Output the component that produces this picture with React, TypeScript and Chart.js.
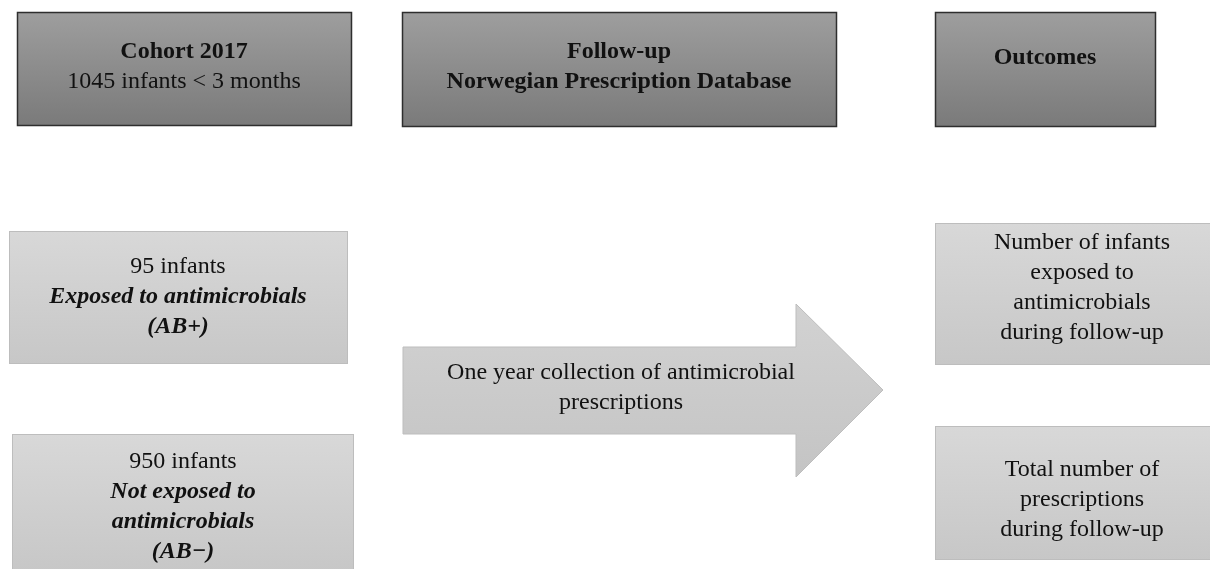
import React, { useEffect, useRef } from "react";
import { Chart, registerables } from "chart.js";

Chart.register(...registerables);

// Box extents in chart units (x: 0..1210, y: 0..569 from top)
const boxNames = ["cohort", "followup", "outcomes", "abplus", "abminus", "outA", "outB"];
const boxX1 = [17, 402, 935, 9, 12, 935, 935];
const boxX2 = [352, 837, 1156, 348, 354, 1212, 1212];
const boxY1 = [12, 12, 12, 231, 434, 223, 426];
const boxY2 = [126, 127, 127, 364, 572, 365, 560];
const boxKind = ["dark", "dark", "dark", "light", "light", "light", "light"];

// Text lines: [text, bold, italic]
const boxLines: [string, boolean, boolean][][] = [
  [["Cohort 2017", true, false], ["1045 infants < 3 months", false, false]],
  [["Follow-up", true, false], ["Norwegian Prescription Database", true, false]],
  [["Outcomes", true, false]],
  [["95 infants", false, false], ["Exposed to antimicrobials", true, true], ["(AB+)", true, true]],
  [["950 infants", false, false], ["Not exposed to", true, true], ["antimicrobials", true, true], ["(AB\u2212)", true, true]],
  [["Number of infants", false, false], ["exposed to", false, false], ["antimicrobials", false, false], ["during follow-up", false, false]],
  [["Total number of", false, false], ["prescriptions", false, false], ["during follow-up", false, false]],
];
const textCenterX = [184, 619, 1045, 178, 183, 1082, 1082];
const textFirstY = [52, 52, 58, 267, 462, 243, 470];

// Arrow geometry
const arrowShaftX = [403, 796];
const arrowShaftY = [347, 434];
const arrowHeadY = [304, 477];
const arrowTip = [883, 390];
const arrowLines = ["One year collection of antimicrobial", "prescriptions"];
const arrowTextX = 621;
const arrowTextY = 373;

const LINE_H = 30;
const FONT_SIZE = 24;
const FONT = '"Liberation Serif", "Times New Roman", serif';

const flowPlugin = {
  id: "flow",
  afterDatasetsDraw(chart: any) {
    const ctx: CanvasRenderingContext2D = chart.ctx;
    const xs = chart.scales.x;
    const ys = chart.scales.y;
    const px = (v: number) => xs.getPixelForValue(v);
    const py = (v: number) => ys.getPixelForValue(v);
    ctx.save();

    const drawText = (lines: [string, boolean, boolean][], cx: number, y0: number) => {
      ctx.fillStyle = "#111";
      ctx.textAlign = "center";
      ctx.textBaseline = "middle";
      lines.forEach((l, i) => {
        ctx.font = `${l[2] ? "italic " : ""}${l[1] ? "bold " : ""}${FONT_SIZE}px ${FONT}`;
        ctx.fillText(l[0], px(cx), py(y0 + i * LINE_H));
      });
    };

    boxNames.forEach((_, i) => {
      const x1 = px(boxX1[i]);
      const x2 = px(boxX2[i]);
      const y1 = py(boxY1[i]);
      const y2 = py(boxY2[i]);
      const g = ctx.createLinearGradient(0, y1, 0, y2);
      if (boxKind[i] === "dark") {
        g.addColorStop(0, "#9e9e9e");
        g.addColorStop(1, "#7a7a7a");
      } else {
        g.addColorStop(0, "#d8d8d8");
        g.addColorStop(1, "#c7c7c7");
      }
      ctx.fillStyle = g;
      ctx.fillRect(x1, y1, x2 - x1, y2 - y1);
      if (boxKind[i] === "dark") {
        ctx.strokeStyle = "#2e2e2e";
        ctx.lineWidth = 1.5;
      } else {
        ctx.strokeStyle = "#bdbdbd";
        ctx.lineWidth = 1;
      }
      ctx.strokeRect(x1 + 0.5, y1 + 0.5, x2 - x1 - 1, y2 - y1 - 1);
      drawText(boxLines[i], textCenterX[i], textFirstY[i]);
    });

    // arrow
    const ag = ctx.createLinearGradient(0, py(arrowHeadY[0]), 0, py(arrowHeadY[1]));
    ag.addColorStop(0, "#d2d2d2");
    ag.addColorStop(1, "#c4c4c4");
    ctx.beginPath();
    ctx.moveTo(px(arrowShaftX[0]), py(arrowShaftY[0]));
    ctx.lineTo(px(arrowShaftX[1]), py(arrowShaftY[0]));
    ctx.lineTo(px(arrowShaftX[1]), py(arrowHeadY[0]));
    ctx.lineTo(px(arrowTip[0]), py(arrowTip[1]));
    ctx.lineTo(px(arrowShaftX[1]), py(arrowHeadY[1]));
    ctx.lineTo(px(arrowShaftX[1]), py(arrowShaftY[1]));
    ctx.lineTo(px(arrowShaftX[0]), py(arrowShaftY[1]));
    ctx.closePath();
    ctx.fillStyle = ag;
    ctx.fill();
    ctx.strokeStyle = "#bdbdbd";
    ctx.lineWidth = 1;
    ctx.stroke();
    drawText(arrowLines.map((t) => [t, false, false] as [string, boolean, boolean]), arrowTextX, arrowTextY);

    ctx.restore();
  },
};

export default function App() {
  const ref = useRef<HTMLCanvasElement | null>(null);
  useEffect(() => {
    document.body.style.margin = "0";
    document.body.style.background = "#ffffff";
    const chart = new Chart(ref.current as HTMLCanvasElement, {
      type: "scatter",
      data: { datasets: [{ data: [], pointRadius: 0 }] },
      options: {
        animation: false,
        responsive: false,
        maintainAspectRatio: false,
        layout: { padding: 0 },
        plugins: { legend: { display: false }, tooltip: { enabled: false } },
        scales: {
          x: { type: "linear", min: 0, max: 1210, display: false },
          y: { type: "linear", min: 0, max: 569, reverse: true, display: false },
        },
      },
      plugins: [flowPlugin],
    });
    return () => chart.destroy();
  }, []);
  return (
    <div style={{ position: "absolute", left: 0, top: 0, width: 1210, height: 569, background: "#fff" }}>
      <canvas ref={ref} width={1210} height={569} style={{ width: 1210, height: 569, display: "block" }} />
    </div>
  );
}
